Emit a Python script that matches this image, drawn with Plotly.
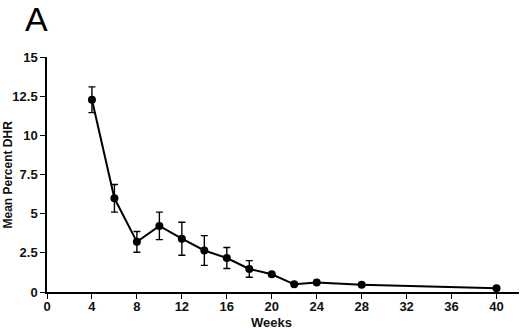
import plotly.graph_objects as go

weeks = [4, 6, 8, 10, 12, 14, 16, 18, 20, 22, 24, 28, 40]
mean_dhr = [12.27, 5.98, 3.2, 4.22, 3.4, 2.65, 2.17, 1.47, 1.13, 0.49, 0.6, 0.47, 0.24]
err = [0.82, 0.88, 0.66, 0.88, 1.05, 0.95, 0.67, 0.53, 0, 0, 0, 0, 0]

x_ticks = [0, 4, 8, 12, 16, 20, 24, 28, 32, 36, 40]
y_ticks = [0, 2.5, 5, 7.5, 10, 12.5, 15]
y_tick_labels = ["0", "2.5", "5", "7.5", "10", "12.5", "15"]

fig = go.Figure()
fig.add_trace(go.Scatter(
    x=weeks, y=mean_dhr, mode="lines+markers",
    line=dict(color="black", width=2),
    marker=dict(color="black", size=8),
    error_y=dict(type="data", array=err, visible=True, color="black", thickness=1.4, width=3.5),
    showlegend=False,
    cliponaxis=False,
))

font_family = "Liberation Sans, Arial, sans-serif"
fig.update_layout(
    width=520, height=329,
    margin=dict(l=47, r=1, t=57, b=37),
    paper_bgcolor="white", plot_bgcolor="white",
    font=dict(family=font_family, color="black", size=13),
    annotations=[
        dict(text="A", x=(23 - 47) / 472, y=1.2505, xref="paper", yref="paper", xanchor="left", yanchor="top",
             showarrow=False, font=dict(size=34, family=font_family, color="black")),
        dict(text="<b>Weeks</b>", x=20, y=0.0, xref="x", yref="paper", xanchor="center", yanchor="top",
             yshift=-21, showarrow=False, font=dict(size=13, family=font_family, color="#111")),
        dict(text="<b>Mean Percent DHR</b>", x=(7 - 47) / 472, y=0.5, xref="paper", yref="paper",
             xanchor="center", yanchor="middle", textangle=-90,
             showarrow=False, font=dict(size=12, family=font_family, color="#111")),
    ],
)
fig.update_xaxes(
    range=[0, 42], tickvals=x_ticks, ticktext=["<b>%d</b>" % t for t in x_ticks],
    showline=True, linecolor="black", linewidth=1.8, ticks="outside", ticklen=5, tickwidth=1.2,
    tickcolor="black", showgrid=False, zeroline=False, ticklabelstandoff=-4,
    tickfont=dict(size=13, family=font_family, color="#111"),
)
fig.update_yaxes(
    range=[0, 15], tickvals=y_ticks, ticktext=["<b>%s</b>" % t for t in y_tick_labels],
    showline=True, linecolor="black", linewidth=1.5, ticks="outside", ticklen=5, tickwidth=1.2,
    tickcolor="black", showgrid=False, zeroline=False,
    tickfont=dict(size=13, family=font_family, color="#111"),
)
fig.write_html("out.html", config={"displayModeBar": False},
               post_script="document.body.style.margin='0';")
